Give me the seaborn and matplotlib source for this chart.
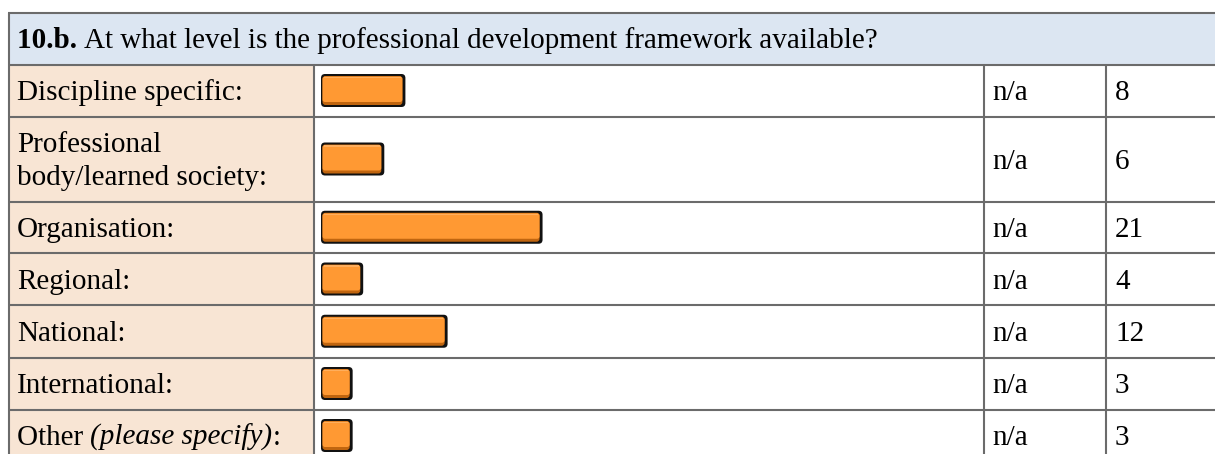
import matplotlib
matplotlib.use("Agg")
import matplotlib.pyplot as plt
import seaborn as sns
from matplotlib.patches import Rectangle, FancyBboxPatch

# ---------------- data ----------------
question_num = "10.b."
question_text = "At what level is the professional development framework available?"
categories = ["Discipline specific:", "Professional\nbody/learned society:", "Organisation:",
              "Regional:", "National:", "International:", "Other"]
label_italic = ["", "", "", "", "", "", "(please specify)"]
label_suffix = ["", "", "", "", "", "", ":"]
percent_labels = ["n/a", "n/a", "n/a", "n/a", "n/a", "n/a", "n/a"]
counts = [8, 6, 21, 4, 12, 3, 3]

# ---------------- style ----------------
sns.set_theme(style="white")
plt.rcParams["font.family"] = ["Liberation Serif", "DejaVu Serif"]
plt.rcParams["text.color"] = "black"
FS = 21
EM = FS * 100 / 72.0           # em size in pixels
BASE_OFF = 0.33 * EM           # baseline offset below row centre
LINE_GAP = 1.14 * EM

W, H = 1215, 454
fig = plt.figure(figsize=(W / 100, H / 100), dpi=100)
fig.patch.set_facecolor("white")

bg = fig.add_axes([0, 0, 1, 1])
bg.set_xlim(0, W)
bg.set_ylim(H, 0)
bg.axis("off")

LINE = "#6b6b6b"
HEAD_BG = "#dce6f2"
LABEL_BG = "#f8e5d4"

x_left, x_c1, x_c2, x_c3, x_right = 8.5, 313.5, 983.5, 1106, 1230
row_edges = [13, 64.5, 116.5, 201.5, 253, 305, 357.5, 409.5, 461.5]

# header
bg.add_patch(Rectangle((x_left, row_edges[0]), x_right - x_left, row_edges[1] - row_edges[0],
                       facecolor=HEAD_BG, edgecolor="none", zorder=0))
# label column
bg.add_patch(Rectangle((x_left, row_edges[1]), x_c1 - x_left, row_edges[-1] - row_edges[1],
                       facecolor=LABEL_BG, edgecolor="none", zorder=0))
lw = 1.5
for y in row_edges[:-1]:
    bg.plot([x_left - 1, x_right], [y, y], color=LINE, lw=lw, solid_capstyle="butt", zorder=2)
bg.plot([x_left, x_left], [row_edges[0], H + 5], color=LINE, lw=lw, zorder=2)
for x in (x_c1, x_c2, x_c3):
    bg.plot([x, x], [row_edges[1], H + 5], color=LINE, lw=lw, zorder=2)

fig.canvas.draw()
renderer = fig.canvas.get_renderer()


def rich_text(x, y, parts):
    """parts: list of (text, weight, style); drawn side by side on one baseline."""
    cur = x
    for txt, weight, style in parts:
        if not txt:
            continue
        t = bg.text(cur, y, txt, fontsize=FS, fontweight=weight, fontstyle=style,
                    ha="left", va="baseline", color="black", zorder=3)
        bb = t.get_window_extent(renderer)
        cur += bb.width
    return cur


hy = (row_edges[0] + row_edges[1]) / 2
rich_text(17, hy + BASE_OFF, [(question_num + " ", "bold", "normal"),
                              (question_text, "normal", "normal")])

for i, cat in enumerate(categories):
    cy = (row_edges[i + 1] + row_edges[i + 2]) / 2
    lines = cat.split("\n")
    n = len(lines)
    for j, ln in enumerate(lines):
        by = cy + BASE_OFF + (j - (n - 1) / 2) * LINE_GAP
        parts = [(ln, "normal", "normal")]
        if j == n - 1 and label_italic[i]:
            parts = [(ln + " ", "normal", "normal"), (label_italic[i], "normal", "italic"),
                     (label_suffix[i], "normal", "normal")]
        rich_text(17, by, parts)
    bg.text(992, cy + BASE_OFF, percent_labels[i], fontsize=FS, ha="left", va="baseline",
            color="black", zorder=3)
    bg.text(1115, cy + BASE_OFF, str(counts[i]), fontsize=FS, ha="left", va="baseline",
            color="black", zorder=3)

# ---------------- bars (one seaborn barplot per row) ----------------
bar_x0 = 321
px_per_unit = 10.55
bar_h_px = 33
bar_axes = []
for i, cat in enumerate(categories):
    top, bot = row_edges[i + 1], row_edges[i + 2]
    rh = bot - top
    ax = fig.add_axes([bar_x0 / W, 1 - bot / H, (x_c2 - bar_x0) / W, rh / H])
    sns.barplot(x=[counts[i]], y=[cat], orient="h", width=bar_h_px / rh,
                color="#ff9933", ax=ax)
    ax.set_xlim(0, (x_c2 - bar_x0) / px_per_unit)
    ax.set_ylim(0.5, -0.5)
    ax.axis("off")
    ax.patch.set_alpha(0)
    bar_axes.append(ax)

fig.canvas.draw()
inv = bg.transData.inverted()
for ax in bar_axes:
    for p in list(ax.patches):
        bb = p.get_window_extent(renderer)
        (x0, y1), (x1, y0) = inv.transform([[bb.x0, bb.y0], [bb.x1, bb.y1]])
        p.set_visible(False)
        w, h = x1 - x0, y1 - y0
        # black outline / shadow
        bg.add_patch(FancyBboxPatch((x0, y0), w, h, boxstyle="round,pad=0,rounding_size=4",
                                    facecolor="#111111", edgecolor="none", zorder=4))
        # dark bottom band
        bg.add_patch(FancyBboxPatch((x0 + 1.5, y0 + 2), w - 4.5, h - 4,
                                    boxstyle="round,pad=0,rounding_size=3",
                                    facecolor="#c0650f", edgecolor="none", zorder=5))
        # main fill
        bg.add_patch(FancyBboxPatch((x0 + 1.5, y0 + 2.5), w - 4.5, h - 7.5,
                                    boxstyle="round,pad=0,rounding_size=2.5",
                                    facecolor="#ff9933", edgecolor="none", zorder=6))
        # top highlight
        bg.add_patch(Rectangle((x0 + 3, y0 + 3), w - 7.5, 1.5,
                               facecolor="#ffae5c", edgecolor="none", zorder=7))

fig.savefig("out.png", dpi=100, facecolor="white")
